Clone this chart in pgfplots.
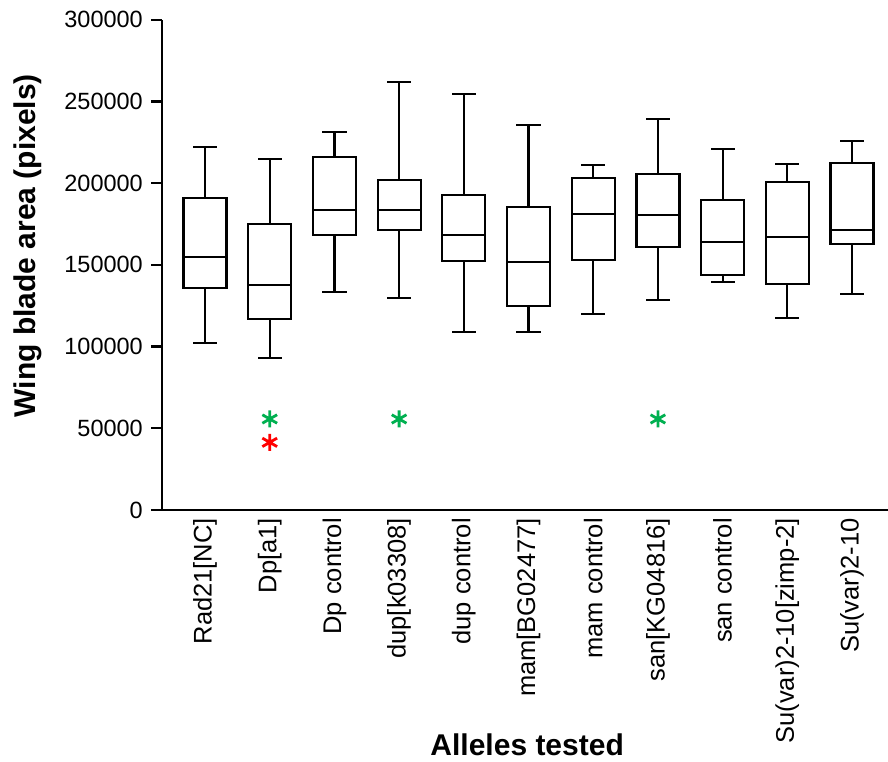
\documentclass[border=0pt]{standalone}
\usepackage{pgfplots}
\pgfplotsset{compat=1.18}
\usepackage{fontspec}
\setmainfont{Liberation Sans}
\definecolor{stargreen}{RGB}{0,176,80}
\definecolor{starred}{RGB}{255,0,0}
\begin{document}
\begin{tikzpicture}
\useasboundingbox (0pt,0pt) rectangle (888pt,762pt);
\begin{axis}[
  at={(162pt,252pt)}, anchor=south west,
  scale only axis, width=726pt, height=490.2pt,
  xmin=0.335, xmax=11.556, ymin=0, ymax=300000,
  axis x line=bottom, axis y line=left,
  axis line style={-, line width=2.2pt, black},
  xtick={1,2,3,4,5,6,7,8,9,10,11},
  xticklabels={Rad21[NC],Dp[a1],Dp control,dup[k03308],dup control,mam[BG02477],mam control,san[KG04816],san control,Su(var)2-10[zimp-2],Su(var)2-10},
  xtick style={draw=none},
  xticklabel style={rotate=90, anchor=east, inner sep=0pt, font=\fontsize{25.5}{30}\selectfont},
  xticklabel shift=-3pt,
  ytick={0,50000,100000,150000,200000,250000,300000},
  tick align=outside,
  major tick length=11pt,
  ytick style={line width=2.2pt, black},
  yticklabel style={inner sep=0pt, font=\fontsize{23.5}{28}\selectfont},
  yticklabel shift=8pt,
  scaled y ticks=false,
  /pgf/number format/fixed,
  /pgf/number format/precision=0,
  /pgf/number format/1000 sep={},
  /pgf/number format/assume math mode=true,
  xlabel={Alleles tested},
  xlabel style={at={(axis description cs:0.503,-0.478)}, anchor=center, font=\fontsize{30}{36}\selectfont\bfseries},
  ylabel={Wing blade area (pixels)},
  ylabel style={at={(axis description cs:-0.1846,0.539)}, anchor=center, font=\fontsize{30}{36}\selectfont\bfseries},
  unbounded coords=jump,
  bx/.style={black, line width=2.2pt, line cap=rect, line join=miter, mark=none},
]
% box: Q1, Q3 rectangle; median; upper whisker and cap; lower whisker and cap
\addplot[bx] coordinates {(0.6675,135700)(1.3325,135700)(1.3325,191100)(0.6675,191100)(0.6675,135700) (1,nan) (0.6675,154600)(1.3325,154600) (1,nan) (1,191100)(1,222000) (1,nan) (0.83,222000)(1.17,222000) (1,nan) (1,135700)(1,102000) (1,nan) (0.83,102000)(1.17,102000)};
\addplot[bx] coordinates {(1.6675,116700)(2.3325,116700)(2.3325,174800)(1.6675,174800)(1.6675,116700) (2,nan) (1.6675,137700)(2.3325,137700) (2,nan) (2,174800)(2,214800) (2,nan) (1.83,214800)(2.17,214800) (2,nan) (2,116700)(2,93200) (2,nan) (1.83,93200)(2.17,93200)};
\addplot[bx] coordinates {(2.6675,168300)(3.3325,168300)(3.3325,216000)(2.6675,216000)(2.6675,168300) (3,nan) (2.6675,183600)(3.3325,183600) (3,nan) (3,216000)(3,231100) (3,nan) (2.83,231100)(3.17,231100) (3,nan) (3,168300)(3,133600) (3,nan) (2.83,133600)(3.17,133600)};
\addplot[bx] coordinates {(3.6675,171600)(4.3325,171600)(4.3325,202100)(3.6675,202100)(3.6675,171600) (4,nan) (3.6675,183600)(4.3325,183600) (4,nan) (4,202100)(4,261900) (4,nan) (3.83,261900)(4.17,261900) (4,nan) (4,171600)(4,129900) (4,nan) (3.83,129900)(4.17,129900)};
\addplot[bx] coordinates {(4.6675,152200)(5.3325,152200)(5.3325,193000)(4.6675,193000)(4.6675,152200) (5,nan) (4.6675,168500)(5.3325,168500) (5,nan) (5,193000)(5,254800) (5,nan) (4.83,254800)(5.17,254800) (5,nan) (5,152200)(5,108900) (5,nan) (4.83,108900)(5.17,108900)};
\addplot[bx] coordinates {(5.6675,125000)(6.3325,125000)(6.3325,185200)(5.6675,185200)(5.6675,125000) (6,nan) (5.6675,152000)(6.3325,152000) (6,nan) (6,185200)(6,235400) (6,nan) (5.83,235400)(6.17,235400) (6,nan) (6,125000)(6,108900) (6,nan) (5.83,108900)(6.17,108900)};
\addplot[bx] coordinates {(6.6675,153000)(7.3325,153000)(7.3325,203400)(6.6675,203400)(6.6675,153000) (7,nan) (6.6675,181300)(7.3325,181300) (7,nan) (7,203400)(7,211100) (7,nan) (6.83,211100)(7.17,211100) (7,nan) (7,153000)(7,120100) (7,nan) (6.83,120100)(7.17,120100)};
\addplot[bx] coordinates {(7.6675,161100)(8.3325,161100)(8.3325,205400)(7.6675,205400)(7.6675,161100) (8,nan) (7.6675,180500)(8.3325,180500) (8,nan) (8,205400)(8,239300) (8,nan) (7.83,239300)(8.17,239300) (8,nan) (8,161100)(8,128300) (8,nan) (7.83,128300)(8.17,128300)};
\addplot[bx] coordinates {(8.6675,143800)(9.3325,143800)(9.3325,189900)(8.6675,189900)(8.6675,143800) (9,nan) (8.6675,163800)(9.3325,163800) (9,nan) (9,189900)(9,220900) (9,nan) (8.83,220900)(9.17,220900) (9,nan) (9,143800)(9,139500) (9,nan) (8.83,139500)(9.17,139500)};
\addplot[bx] coordinates {(9.6675,138100)(10.3325,138100)(10.3325,200500)(9.6675,200500)(9.6675,138100) (10,nan) (9.6675,167100)(10.3325,167100) (10,nan) (10,200500)(10,211900) (10,nan) (9.83,211900)(10.17,211900) (10,nan) (10,138100)(10,117300) (10,nan) (9.83,117300)(10.17,117300)};
\addplot[bx] coordinates {(10.6675,162800)(11.3325,162800)(11.3325,212400)(10.6675,212400)(10.6675,162800) (11,nan) (10.6675,171600)(11.3325,171600) (11,nan) (11,212400)(11,225800) (11,nan) (10.83,225800)(11.17,225800) (11,nan) (11,162800)(11,132200) (11,nan) (10.83,132200)(11.17,132200)};
\addplot[only marks, mark=asterisk, mark size=8.5pt, stargreen, line width=2.8pt] coordinates {(2,55700) (4,55700) (8,55700)};
\addplot[only marks, mark=asterisk, mark size=8.5pt, starred, line width=2.8pt] coordinates {(2,41400)};
\end{axis}
\end{tikzpicture}
\end{document}
